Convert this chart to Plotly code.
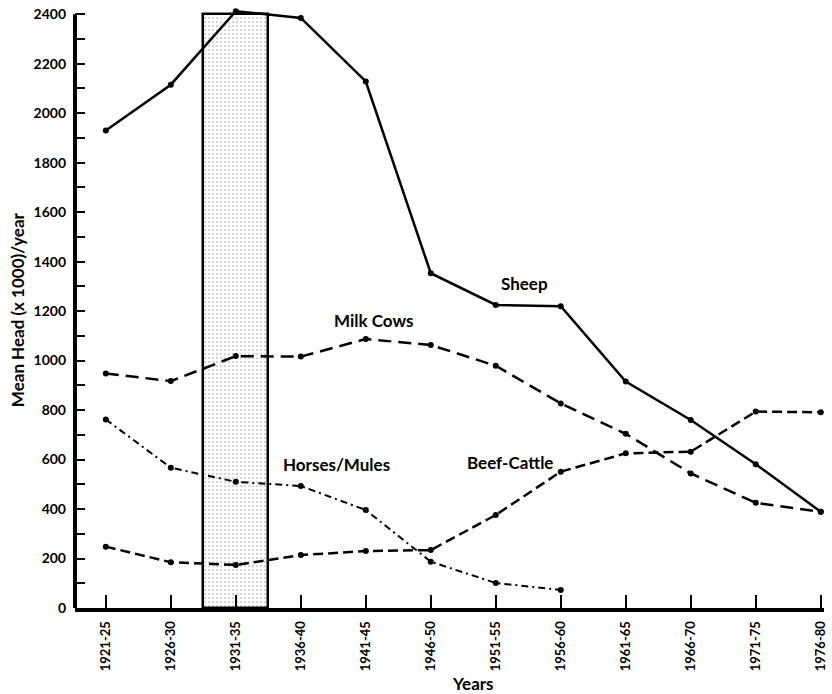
import plotly.graph_objects as go

# Five-year periods
periods = ["1921-25", "1926-30", "1931-35", "1936-40", "1941-45", "1946-50",
           "1951-55", "1956-60", "1961-65", "1966-70", "1971-75", "1976-80"]

# Mean head (x 1000) per year
sheep = [1930, 2115, 2412, 2385, 2128, 1353, 1225, 1220, 915, 760, 581, 389]
milk_cows = [948, 917, 1018, 1016, 1087, 1063, 979, 827, 704, 544, 425, 389]
beef_cattle = [248, 185, 174, 214, 230, 234, 376, 551, 625, 632, 794, 791]
horses_mules = [762, 567, 510, 493, 396, 187, 101, 73]

# Highlighted period (drought years)
shade_period = ["1931-35"]
shade_top = [2400]

Y_AXIS_TOP = 2400
FONT = "Lato"
BLACK = "black"

fig = go.Figure()

# Stippled band for the highlighted period
fig.add_trace(go.Bar(
    x=shade_period, y=shade_top, width=1,
    marker=dict(color="white",
                line=dict(color=BLACK, width=2.5),
                pattern=dict(shape=".", fgcolor="#555", bgcolor="white",
                             size=4, solidity=0.15)),
    showlegend=False, hoverinfo="skip",
))

def series(y, dash, width):
    return go.Scatter(
        x=periods[:len(y)], y=y, mode="lines+markers",
        line=dict(color=BLACK, width=width, dash=dash),
        marker=dict(color=BLACK, size=6),
        cliponaxis=False, showlegend=False,
    )

fig.add_trace(series(sheep, "solid", 2.5))
fig.add_trace(series(milk_cows, "13px,7px", 2.5))
fig.add_trace(series(beef_cattle, "10px,5px", 2.5))
fig.add_trace(series(horses_mules, "7px,4px,2px,4px", 2))

labels = [
    ("Sheep", 6.44, 1313),
    ("Milk Cows", 4.12, 1164),
    ("Horses/Mules", 3.55, 578),
    ("Beef-Cattle", 6.22, 590),
]
for text, x, y in labels:
    fig.add_annotation(x=x, y=y, text=f"<b>{text}</b>", showarrow=False,
                       font=dict(family=FONT, size=17, color=BLACK))

fig.add_annotation(xref="paper", yref="paper", x=0.531, y=-0.126,
                   xanchor="center", yanchor="middle",
                   text="<b>Years</b>", showarrow=False,
                   font=dict(family=FONT, size=17, color=BLACK))
fig.add_annotation(xref="paper", yref="paper", x=-0.077, y=0.497,
                   xanchor="center", yanchor="middle",
                   textangle=-90, text="<b>Mean Head (x 1000)/year</b>",
                   showarrow=False,
                   font=dict(family=FONT, size=17, color=BLACK))

# Vertical axis line stops at the top tick
fig.add_shape(type="line", xref="paper", yref="y",
              x0=0, x1=0, y0=0, y1=Y_AXIS_TOP,
              line=dict(color=BLACK, width=4))

fig.update_layout(
    width=832, height=694,
    margin=dict(l=75, r=4, t=8, b=86),
    plot_bgcolor="white", paper_bgcolor="white",
    font=dict(family=FONT, color=BLACK),
    bargap=0,
)

fig.update_xaxes(
    type="category", categoryorder="array", categoryarray=periods,
    range=[-0.474, 11.05],
    showline=True, linewidth=4, linecolor=BLACK,
    ticks="inside", ticklen=13, tickwidth=2, tickcolor=BLACK,
    ticklabelstandoff=4,
    tickangle=-90, showgrid=False, zeroline=False,
    tickfont=dict(family=FONT, size=13, color=BLACK, weight="bold"),
)
fig.update_yaxes(
    range=[0, 2425], tickvals=list(range(0, 2401, 200)),
    showline=False,
    ticks="inside", ticklen=10, tickwidth=2, tickcolor=BLACK,
    ticklabelstandoff=8,
    minor=dict(tickvals=list(range(100, 2400, 200)), ticks="inside",
               ticklen=10, tickwidth=2, tickcolor=BLACK, showgrid=False),
    showgrid=False, zeroline=False,
    tickfont=dict(family=FONT, size=14, color=BLACK, weight="bold"),
)

fig.write_html("out.html")
